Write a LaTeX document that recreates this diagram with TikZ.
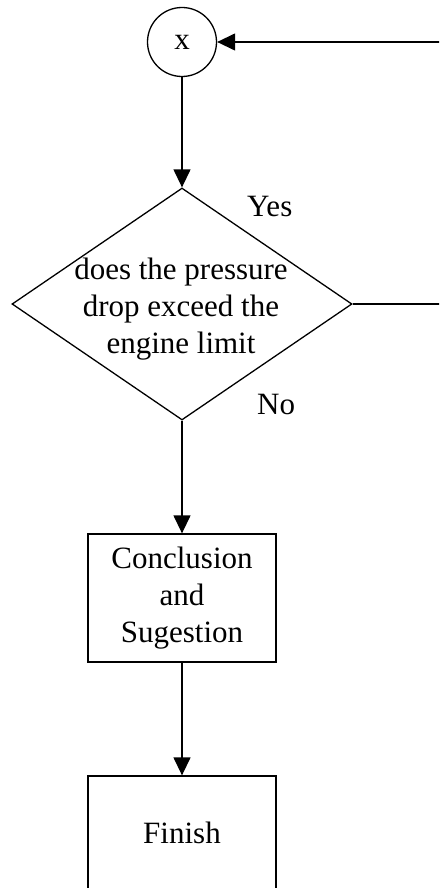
\documentclass[tikz,border=0pt]{standalone}
\usepackage{fontspec}
\setmainfont{Liberation Serif}
\usetikzlibrary{shapes.geometric,arrows.meta}

\tikzset{
  flow/.style={line width=1.3pt, draw=black},
  arr/.style={flow, -{Triangle[length=18pt,width=17pt]}},
  bigfont/.style={font=\fontsize{31}{37}\selectfont},
  connector/.style={flow, circle, minimum size=69pt, inner sep=0pt, bigfont},
  decision/.style={flow, diamond, minimum width=340pt, minimum height=232pt, inner sep=0pt},
  stepbox/.style={flow, rectangle, minimum width=188pt, align=center, inner sep=0pt, bigfont},
  plain/.style={inner sep=0pt, bigfont},
}

\begin{document}
\begin{tikzpicture}[x=1pt,y=-1pt]
  \useasboundingbox (0,0) rectangle (439,888);
  \clip (0,0) rectangle (439,888);

  % off-page connector and the loop-back input
  \node[connector] (conn) at (182,42) {x};
  \coordinate (loopin) at (440,42);

  % decision
  \node[decision] (q) at (182,304) {};
  \node[plain, align=center] (qtext) at (181,309)
    {does the pressure\\drop exceed the\\engine limit};
  \coordinate (yesout) at (440,304);

  % process boxes
  \node[stepbox, minimum height=128pt] (concl) at (182,598)
    {Conclusion\\and\\Sugestion};
  \node[stepbox, minimum height=114pt] (finish) at (182,833) {Finish};

  % branch labels
  \node[plain, anchor=base west] (yes) at (247,216) {Yes};
  \node[plain, anchor=base west] (no) at (257,414) {No};

  % connectors
  \draw[arr] (loopin) -- (conn.east);
  \draw[arr] (conn.south) -- (q.north);
  \draw[flow] (q.east) -- (yesout);
  \draw[arr] (q.south) -- (concl.north);
  \draw[arr] (concl.south) -- (finish.north);
\end{tikzpicture}
\end{document}
